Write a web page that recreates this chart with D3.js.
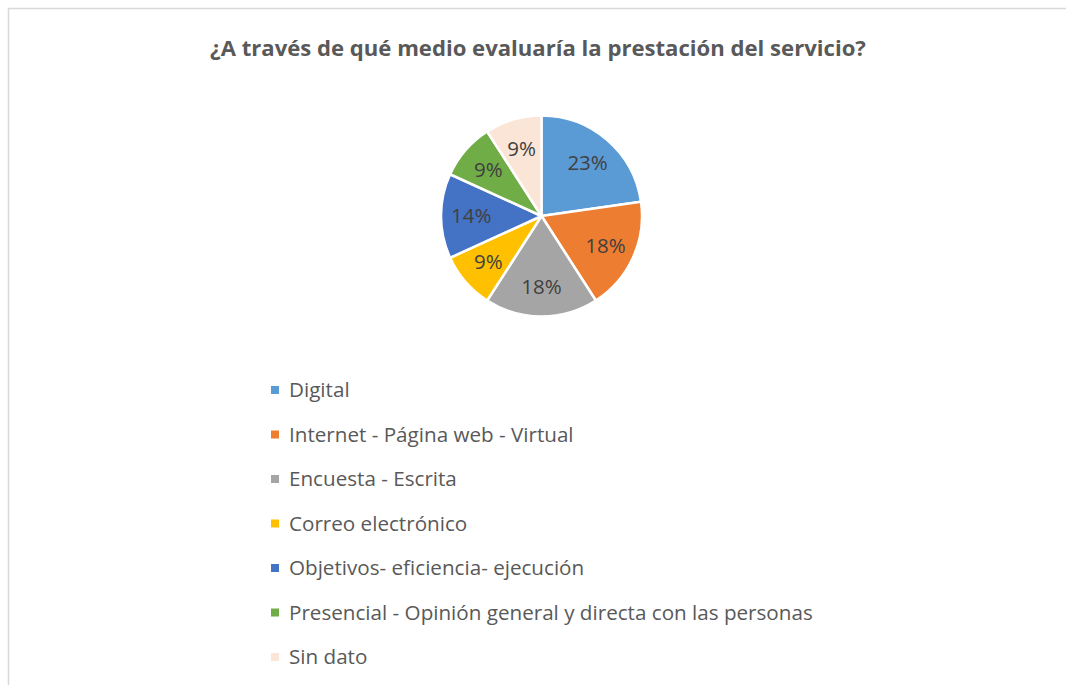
<!DOCTYPE html>
<html>
<head>
<meta charset="utf-8">
<script src="https://cdn.jsdelivr.net/npm/d3@7"></script>
<style>
  html, body { margin: 0; padding: 0; background: #fff; }
  svg { display: block; }
</style>
</head>
<body>
<svg id="chart" width="1066" height="685"></svg>
<script>
const title = "¿A través de qué medio evaluaría la prestación del servicio?";
const categories = [
  "Digital",
  "Internet - Página web - Virtual",
  "Encuesta - Escrita",
  "Correo electrónico",
  "Objetivos- eficiencia- ejecución",
  "Presencial - Opinión general y directa con las personas",
  "Sin dato"
];
const counts = [5, 4, 4, 2, 3, 2, 2];
const colors = ["#5B9BD5", "#ED7D31", "#A5A5A5", "#FFC000", "#4472C4", "#70AD47", "#FBE5D6"];

const FONT = "'Open Sans', 'Noto Sans', sans-serif";
const svg = d3.select("#chart");

// frame
svg.append("rect")
  .attr("x", 8.5).attr("y", 8.5)
  .attr("width", 1080).attr("height", 700)
  .attr("fill", "#fff")
  .attr("stroke", "#d9d9d9").attr("stroke-width", 1.5);

// title
const titleEl = svg.append("text")
  .attr("x", 538).attr("y", 56)
  .attr("text-anchor", "middle")
  .attr("font-family", FONT)
  .attr("font-weight", "bold")
  .attr("font-size", 20)
  .attr("fill", "#595959")
  .text(title);
{
  const w = titleEl.node().getComputedTextLength();
  titleEl.attr("font-size", 20 * 656 / w);
}

// pie
const cx = 541.5, cy = 216, R = 100.5;
const total = d3.sum(counts);
const pie = d3.pie().sort(null).value(d => d)(counts);
const arc = d3.arc().innerRadius(0).outerRadius(R);
const labelArc = d3.arc().innerRadius(R * 0.7).outerRadius(R * 0.7);
const color = d3.scaleOrdinal().domain(d3.range(categories.length)).range(colors);

const g = svg.append("g").attr("transform", `translate(${cx},${cy})`);
g.selectAll("path.slice")
  .data(pie)
  .join("path")
  .attr("class", "slice")
  .attr("d", arc)
  .attr("fill", (d, i) => color(i))
  .attr("stroke", "#fff")
  .attr("stroke-width", 2.5)
  .attr("stroke-linejoin", "round");

const fmt = d3.format(".0%");
g.selectAll("text.lbl")
  .data(pie)
  .join("text")
  .attr("class", "lbl")
  .attr("transform", d => `translate(${labelArc.centroid(d)})`)
  .attr("text-anchor", "middle")
  .attr("dy", "0.36em")
  .attr("font-family", FONT)
  .attr("font-size", 20.5)
  .attr("fill", "#404040")
  .text(d => fmt(d.value / total));

// legend
const legendY = d3.scalePoint().domain(d3.range(categories.length)).range([390, 657]);
const lg = svg.append("g");
const items = lg.selectAll("g.item")
  .data(categories)
  .join("g")
  .attr("class", "item")
  .attr("transform", (d, i) => `translate(271,${legendY(i)})`);
items.append("rect")
  .attr("x", 0).attr("y", -4)
  .attr("width", 8).attr("height", 8)
  .attr("fill", (d, i) => color(i));
const legendTexts = items.append("text")
  .attr("x", 18)
  .attr("dy", "0.36em")
  .attr("font-family", FONT)
  .attr("font-size", 19)
  .attr("fill", "#595959")
  .text(d => d);
{
  const w = d3.max(legendTexts.nodes(), n => n.getComputedTextLength());
  legendTexts.attr("font-size", 19 * 524 / w);
}
</script>
</body>
</html>
